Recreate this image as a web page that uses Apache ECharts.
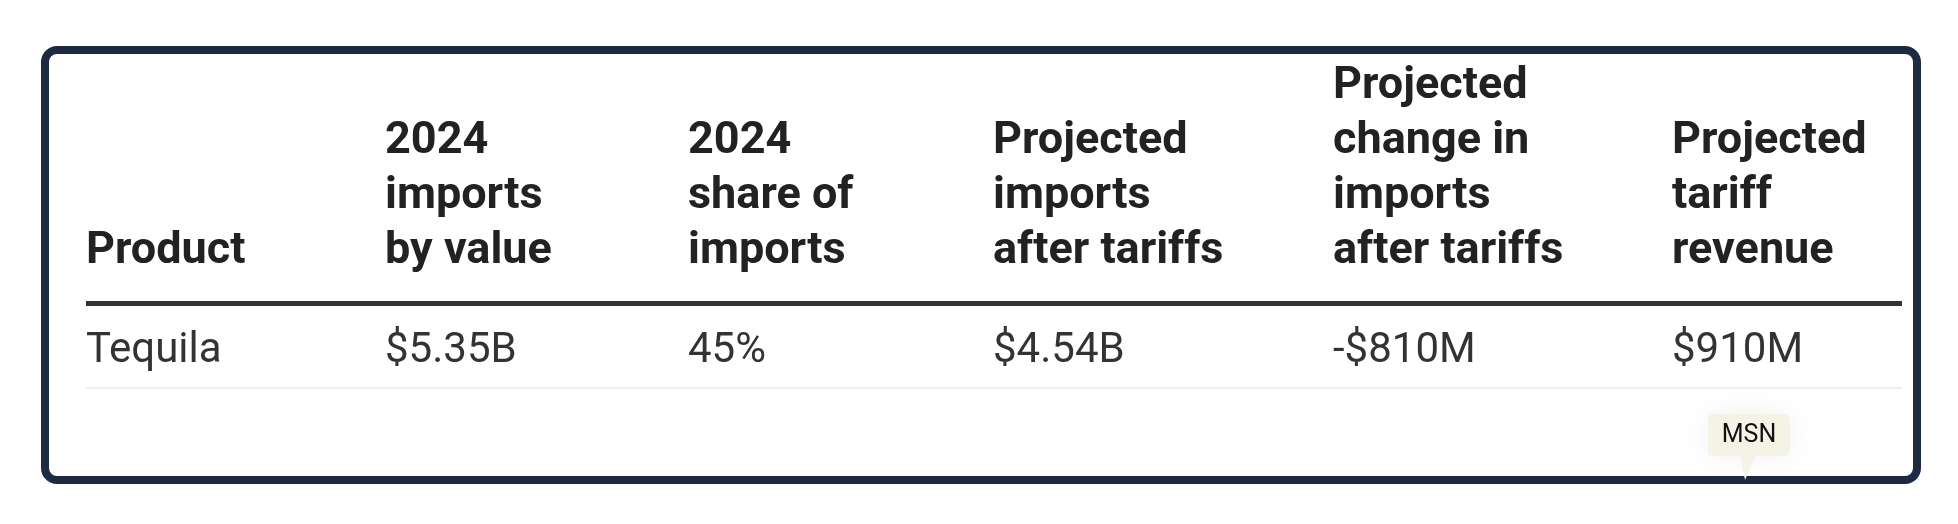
<!DOCTYPE html>
<html><head><meta charset="utf-8">
<script src="https://cdn.jsdelivr.net/npm/echarts@6/dist/echarts.min.js"></script>
<style>html,body{margin:0;padding:0;background:#fff}#c{width:1958px;height:524px}</style>
</head><body><div id="c"></div>
<script>
const headers = [
  ["Product"],
  ["2024", "imports", "by value"],
  ["2024", "share of", "imports"],
  ["Projected", "imports", "after tariffs"],
  ["Projected", "change in", "imports", "after tariffs"],
  ["Projected", "tariff", "revenue"]
];
const rowValues = ["Tequila", "$5.35B", "45%", "$4.54B", "-$810M", "$910M"];
const sourceLabel = "MSN";

const colX = [86, 385, 688, 993, 1333, 1672];
const font = "Roboto, 'Noto Sans', sans-serif";
const els = [];
els.push({type:'rect', shape:{x:45,y:50,width:1872,height:430,r:12}, style:{fill:'#fff',stroke:'#1e2a44',lineWidth:8}});
headers.forEach((lines, i) => {
  const n = lines.length;
  lines.forEach((t, j) => {
    els.push({type:'text', x: colX[i], y: 252 - (n-1-j)*55,
      style:{text:t, font:`bold 45px ${font}`, fill:'#222', verticalAlign:'middle', align:'left'}});
  });
});
els.push({type:'rect', shape:{x:86,y:301,width:1816,height:5}, style:{fill:'#333'}});
rowValues.forEach((t, i) => {
  els.push({type:'text', x: colX[i], y: 351,
    style:{text:t, font:`42px ${font}`, fill:'#333', verticalAlign:'middle', align:'left'}});
});
els.push({type:'rect', shape:{x:86,y:387,width:1816,height:2}, style:{fill:'#efefef'}});
els.push({type:'rect', shape:{x:1708,y:414,width:82,height:42,r:5}, style:{fill:'#f5f3e6', shadowBlur:30, shadowColor:'rgba(0,0,0,0.06)'}});
els.push({type:'polygon', shape:{points:[[1740,455],[1756,455],[1745,480]]}, style:{fill:'#f5f3e6'}});
els.push({type:'text', x:1749, y:436, style:{text:sourceLabel, font:`25px ${font}`, fill:'#111', align:'center', verticalAlign:'middle'}});
const chart = echarts.init(document.getElementById('c'));
chart.setOption({animation:false, backgroundColor:'#fff', graphic:{elements:els}});
</script></body></html>
